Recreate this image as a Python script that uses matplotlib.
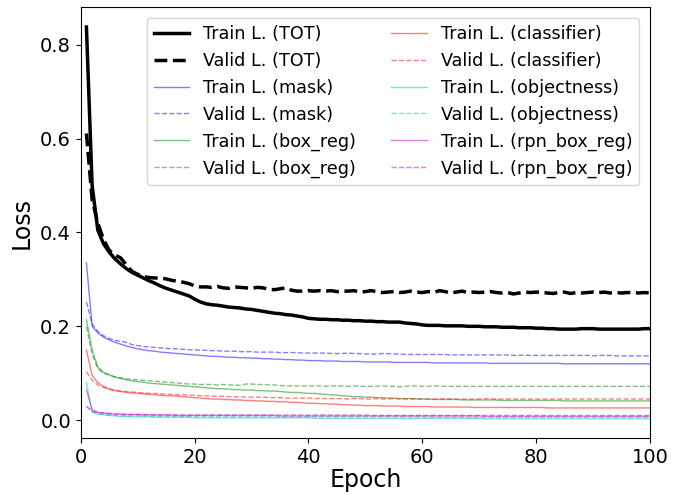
import matplotlib
matplotlib.use("Agg")
import matplotlib.pyplot as plt
import numpy as np

epochs = np.arange(1, 101)

# total loss
train_tot = [0.838, 0.500, 0.405, 0.376, 0.358, 0.344, 0.333, 0.323, 0.315, 0.309,
             0.303, 0.297, 0.292, 0.286, 0.281, 0.277, 0.273, 0.269, 0.265, 0.258,
             0.252, 0.248, 0.246, 0.245, 0.243, 0.241, 0.240, 0.239, 0.237, 0.236,
             0.234, 0.232, 0.230, 0.228, 0.227, 0.225, 0.224, 0.222, 0.220, 0.217,
             0.216, 0.215, 0.215, 0.214, 0.214, 0.213, 0.213, 0.212, 0.212, 0.211,
             0.211, 0.210, 0.210, 0.209, 0.209, 0.209, 0.207, 0.206, 0.205, 0.203,
             0.202, 0.202, 0.202, 0.201, 0.201, 0.201, 0.201, 0.200, 0.200, 0.200,
             0.199, 0.199, 0.199, 0.198, 0.198, 0.198, 0.197, 0.197, 0.197, 0.196,
             0.196, 0.195, 0.195, 0.194, 0.194, 0.194, 0.194, 0.195, 0.195, 0.195,
             0.194, 0.194, 0.194, 0.194, 0.194, 0.194, 0.194, 0.194, 0.195, 0.195]
valid_tot = [0.611, 0.470, 0.420, 0.385, 0.362, 0.352, 0.346, 0.331, 0.317, 0.311,
             0.306, 0.304, 0.303, 0.303, 0.301, 0.298, 0.296, 0.294, 0.291, 0.286,
             0.284, 0.284, 0.283, 0.285, 0.282, 0.281, 0.284, 0.283, 0.282, 0.281,
             0.283, 0.282, 0.279, 0.278, 0.280, 0.282, 0.277, 0.275, 0.275, 0.276,
             0.275, 0.276, 0.275, 0.276, 0.274, 0.275, 0.275, 0.276, 0.273, 0.274,
             0.276, 0.274, 0.272, 0.273, 0.274, 0.272, 0.273, 0.275, 0.273, 0.272,
             0.274, 0.272, 0.276, 0.274, 0.271, 0.273, 0.275, 0.272, 0.273, 0.272,
             0.273, 0.274, 0.272, 0.271, 0.272, 0.269, 0.271, 0.273, 0.272, 0.273,
             0.272, 0.271, 0.270, 0.272, 0.273, 0.270, 0.272, 0.271, 0.272, 0.273,
             0.272, 0.273, 0.271, 0.272, 0.271, 0.272, 0.272, 0.271, 0.272, 0.271]

# mask
train_mask = [0.335, 0.200, 0.186, 0.177, 0.171, 0.166, 0.162, 0.158, 0.155, 0.152,
              0.150, 0.148, 0.147, 0.145, 0.144, 0.143, 0.142, 0.141, 0.140, 0.139,
              0.138, 0.137, 0.136, 0.136, 0.135, 0.134, 0.134, 0.133, 0.133, 0.132,
              0.132, 0.131, 0.131, 0.130, 0.130, 0.129, 0.129, 0.128, 0.128, 0.127,
              0.127, 0.127, 0.126, 0.126, 0.126, 0.125, 0.125, 0.125, 0.125, 0.124,
              0.124, 0.124, 0.124, 0.124, 0.123, 0.123, 0.123, 0.123, 0.123, 0.123,
              0.123, 0.122, 0.122, 0.122, 0.122, 0.122, 0.122, 0.122, 0.122, 0.122,
              0.122, 0.121, 0.121, 0.121, 0.121, 0.121, 0.121, 0.121, 0.121, 0.121,
              0.121, 0.121, 0.121, 0.121, 0.120, 0.120, 0.120, 0.120, 0.120, 0.120,
              0.120, 0.120, 0.120, 0.120, 0.120, 0.120, 0.120, 0.120, 0.120, 0.120]
valid_mask = [0.252, 0.205, 0.189, 0.180, 0.174, 0.170, 0.168, 0.166, 0.161, 0.159,
              0.157, 0.156, 0.155, 0.154, 0.153, 0.152, 0.152, 0.151, 0.150, 0.150,
              0.149, 0.149, 0.148, 0.148, 0.147, 0.147, 0.147, 0.146, 0.146, 0.146,
              0.145, 0.145, 0.145, 0.145, 0.144, 0.144, 0.144, 0.144, 0.143, 0.143,
              0.143, 0.143, 0.143, 0.142, 0.142, 0.142, 0.143, 0.142, 0.142, 0.141,
              0.141, 0.141, 0.142, 0.142, 0.141, 0.141, 0.140, 0.140, 0.140, 0.140,
              0.140, 0.140, 0.140, 0.140, 0.139, 0.139, 0.139, 0.139, 0.139, 0.139,
              0.139, 0.139, 0.139, 0.139, 0.139, 0.138, 0.138, 0.139, 0.138, 0.138,
              0.138, 0.138, 0.138, 0.138, 0.138, 0.138, 0.138, 0.138, 0.138, 0.137,
              0.138, 0.138, 0.138, 0.137, 0.137, 0.137, 0.137, 0.137, 0.137, 0.137]

# box_reg
train_box = [0.214, 0.150, 0.113, 0.102, 0.097, 0.092, 0.089, 0.086, 0.084, 0.082,
             0.081, 0.079, 0.078, 0.077, 0.076, 0.075, 0.074, 0.073, 0.072, 0.071,
             0.070, 0.069, 0.068, 0.067, 0.067, 0.066, 0.065, 0.065, 0.064, 0.064,
             0.063, 0.063, 0.062, 0.062, 0.061, 0.060, 0.059, 0.059, 0.058, 0.057,
             0.057, 0.056, 0.055, 0.054, 0.053, 0.052, 0.051, 0.050, 0.050, 0.049,
             0.049, 0.048, 0.048, 0.047, 0.047, 0.046, 0.046, 0.046, 0.045, 0.045,
             0.045, 0.044, 0.044, 0.044, 0.044, 0.044, 0.043, 0.043, 0.043, 0.043,
             0.043, 0.043, 0.043, 0.042, 0.042, 0.042, 0.042, 0.042, 0.042, 0.042,
             0.042, 0.042, 0.042, 0.042, 0.041, 0.041, 0.041, 0.041, 0.041, 0.041,
             0.041, 0.041, 0.041, 0.041, 0.041, 0.041, 0.041, 0.041, 0.041, 0.041]
valid_box = [0.199, 0.140, 0.110, 0.100, 0.096, 0.092, 0.090, 0.088, 0.087, 0.086,
             0.085, 0.084, 0.083, 0.082, 0.081, 0.080, 0.079, 0.078, 0.077, 0.077,
             0.076, 0.076, 0.076, 0.075, 0.076, 0.075, 0.075, 0.074, 0.077, 0.077,
             0.076, 0.076, 0.075, 0.075, 0.074, 0.073, 0.073, 0.073, 0.073, 0.073,
             0.073, 0.073, 0.072, 0.073, 0.073, 0.073, 0.072, 0.073, 0.072, 0.072,
             0.072, 0.072, 0.073, 0.072, 0.072, 0.071, 0.072, 0.073, 0.073, 0.072,
             0.072, 0.073, 0.073, 0.072, 0.072, 0.072, 0.072, 0.072, 0.072, 0.072,
             0.072, 0.072, 0.072, 0.072, 0.072, 0.072, 0.072, 0.072, 0.072, 0.072,
             0.072, 0.072, 0.072, 0.072, 0.072, 0.072, 0.072, 0.072, 0.072, 0.072,
             0.072, 0.072, 0.072, 0.072, 0.072, 0.072, 0.072, 0.072, 0.072, 0.072]

# classifier
train_cls = [0.149, 0.095, 0.080, 0.072, 0.066, 0.063, 0.061, 0.059, 0.058, 0.057,
             0.056, 0.055, 0.054, 0.053, 0.052, 0.052, 0.051, 0.050, 0.049, 0.048,
             0.047, 0.046, 0.045, 0.045, 0.044, 0.044, 0.043, 0.043, 0.042, 0.042,
             0.041, 0.041, 0.040, 0.040, 0.039, 0.039, 0.038, 0.038, 0.037, 0.036,
             0.036, 0.035, 0.035, 0.034, 0.034, 0.033, 0.033, 0.032, 0.032, 0.031,
             0.031, 0.031, 0.030, 0.030, 0.030, 0.030, 0.029, 0.029, 0.029, 0.029,
             0.029, 0.028, 0.028, 0.028, 0.028, 0.028, 0.028, 0.028, 0.027, 0.027,
             0.027, 0.027, 0.027, 0.027, 0.027, 0.027, 0.027, 0.027, 0.027, 0.027,
             0.027, 0.026, 0.026, 0.026, 0.026, 0.026, 0.026, 0.026, 0.026, 0.026,
             0.026, 0.026, 0.026, 0.026, 0.026, 0.026, 0.026, 0.026, 0.026, 0.026]
valid_cls = [0.103, 0.085, 0.075, 0.070, 0.066, 0.064, 0.062, 0.061, 0.060, 0.059,
             0.058, 0.057, 0.057, 0.056, 0.055, 0.055, 0.054, 0.054, 0.053, 0.053,
             0.052, 0.052, 0.051, 0.051, 0.051, 0.050, 0.050, 0.050, 0.049, 0.049,
             0.049, 0.049, 0.048, 0.048, 0.048, 0.047, 0.047, 0.047, 0.047, 0.047,
             0.046, 0.046, 0.046, 0.046, 0.046, 0.046, 0.045, 0.046, 0.046, 0.045,
             0.045, 0.046, 0.045, 0.045, 0.046, 0.045, 0.045, 0.045, 0.046, 0.045,
             0.045, 0.045, 0.045, 0.046, 0.045, 0.045, 0.045, 0.045, 0.045, 0.045,
             0.046, 0.045, 0.045, 0.045, 0.045, 0.045, 0.045, 0.045, 0.045, 0.045,
             0.045, 0.045, 0.045, 0.045, 0.045, 0.045, 0.045, 0.045, 0.045, 0.045,
             0.045, 0.045, 0.045, 0.045, 0.045, 0.045, 0.045, 0.045, 0.045, 0.045]

# objectness
train_obj = [0.080, 0.018, 0.013, 0.011, 0.010, 0.009, 0.008, 0.008, 0.007, 0.007,
             0.007, 0.007, 0.006, 0.006, 0.006, 0.006, 0.006, 0.006, 0.006, 0.005,
             0.005, 0.005, 0.005, 0.005, 0.005, 0.005, 0.005, 0.005, 0.005, 0.005,
             0.005, 0.005, 0.005, 0.005, 0.005, 0.005, 0.005, 0.005, 0.005, 0.005,
             0.004, 0.004, 0.004, 0.004, 0.004, 0.004, 0.004, 0.004, 0.004, 0.004,
             0.004, 0.004, 0.004, 0.004, 0.004, 0.004, 0.004, 0.004, 0.004, 0.004,
             0.004, 0.004, 0.004, 0.004, 0.004, 0.004, 0.004, 0.004, 0.004, 0.004,
             0.003, 0.003, 0.003, 0.003, 0.003, 0.003, 0.003, 0.003, 0.003, 0.003,
             0.003, 0.003, 0.003, 0.003, 0.003, 0.003, 0.003, 0.003, 0.003, 0.003,
             0.003, 0.003, 0.003, 0.003, 0.003, 0.003, 0.003, 0.003, 0.003, 0.003]
valid_obj = [0.030, 0.017, 0.014, 0.012, 0.011, 0.010, 0.010, 0.009, 0.009, 0.009,
             0.009, 0.008, 0.008, 0.008, 0.008, 0.008, 0.008, 0.008, 0.008, 0.008,
             0.008, 0.008, 0.007, 0.007, 0.007, 0.007, 0.007, 0.007, 0.007, 0.007,
             0.007, 0.007, 0.007, 0.007, 0.007, 0.007, 0.007, 0.007, 0.007, 0.007,
             0.007, 0.007, 0.007, 0.007, 0.007, 0.007, 0.007, 0.007, 0.007, 0.007,
             0.007, 0.007, 0.007, 0.007, 0.007, 0.007, 0.007, 0.007, 0.007, 0.007,
             0.006, 0.006, 0.006, 0.006, 0.006, 0.006, 0.006, 0.006, 0.006, 0.006,
             0.006, 0.006, 0.006, 0.006, 0.006, 0.006, 0.006, 0.006, 0.006, 0.006,
             0.006, 0.006, 0.006, 0.006, 0.006, 0.006, 0.006, 0.006, 0.006, 0.006,
             0.006, 0.006, 0.006, 0.006, 0.006, 0.006, 0.006, 0.006, 0.006, 0.006]

# rpn_box_reg
train_rpn = [0.064, 0.022, 0.017, 0.015, 0.014, 0.013, 0.013, 0.012, 0.012, 0.012,
             0.011, 0.011, 0.011, 0.011, 0.011, 0.011, 0.010, 0.010, 0.010, 0.010,
             0.010, 0.010, 0.010, 0.010, 0.010, 0.010, 0.010, 0.010, 0.010, 0.010,
             0.010, 0.010, 0.010, 0.010, 0.009, 0.009, 0.009, 0.009, 0.009, 0.009,
             0.009, 0.009, 0.009, 0.009, 0.009, 0.009, 0.009, 0.009, 0.009, 0.009,
             0.009, 0.009, 0.009, 0.009, 0.009, 0.009, 0.009, 0.009, 0.009, 0.009,
             0.009, 0.009, 0.009, 0.009, 0.009, 0.009, 0.009, 0.009, 0.009, 0.009,
             0.008, 0.008, 0.008, 0.008, 0.008, 0.008, 0.008, 0.008, 0.008, 0.008,
             0.008, 0.008, 0.008, 0.008, 0.008, 0.008, 0.008, 0.008, 0.008, 0.008,
             0.008, 0.008, 0.008, 0.008, 0.008, 0.008, 0.008, 0.008, 0.008, 0.008]
valid_rpn = [0.029, 0.020, 0.016, 0.015, 0.014, 0.013, 0.013, 0.012, 0.012, 0.012,
             0.012, 0.012, 0.011, 0.011, 0.011, 0.011, 0.011, 0.011, 0.011, 0.011,
             0.011, 0.011, 0.011, 0.011, 0.011, 0.011, 0.011, 0.011, 0.011, 0.011,
             0.011, 0.011, 0.011, 0.011, 0.011, 0.011, 0.011, 0.011, 0.011, 0.011,
             0.011, 0.011, 0.011, 0.011, 0.011, 0.011, 0.011, 0.011, 0.011, 0.011,
             0.010, 0.010, 0.010, 0.010, 0.010, 0.010, 0.010, 0.010, 0.010, 0.010,
             0.010, 0.010, 0.010, 0.010, 0.010, 0.010, 0.010, 0.010, 0.010, 0.010,
             0.010, 0.010, 0.010, 0.010, 0.010, 0.010, 0.010, 0.010, 0.010, 0.010,
             0.010, 0.010, 0.010, 0.010, 0.010, 0.010, 0.010, 0.010, 0.010, 0.010,
             0.010, 0.010, 0.010, 0.010, 0.010, 0.010, 0.010, 0.010, 0.010, 0.010]

parts = ["mask", "box_reg", "classifier", "objectness", "rpn_box_reg"]
part_colors = ["b", "g", "r", "c", "m"]
part_train = [train_mask, train_box, train_cls, train_obj, train_rpn]
part_valid = [valid_mask, valid_box, valid_cls, valid_obj, valid_rpn]

fig = plt.figure(figsize=(6.93, 4.95), dpi=100)
ax = fig.add_axes([0.1165, 0.1145, 0.8215, 0.8705])

ax.plot(epochs, train_tot, color="k", lw=2.5, label="Train L. (TOT)")
ax.plot(epochs, valid_tot, color="k", lw=2.5, ls="--", label="Valid L. (TOT)")
for name, c, tr, va in zip(parts, part_colors, part_train, part_valid):
    ax.plot(epochs, tr, color=c, alpha=0.5, lw=1, label="Train L. (" + name + ")")
    ax.plot(epochs, va, color=c, alpha=0.5, lw=1, ls="--", label="Valid L. (" + name + ")")

ax.set_xlim(0, 100)
ax.set_xlabel("Epoch", fontsize=17, labelpad=0.5)
ax.set_ylabel("Loss", fontsize=17, labelpad=5)
ax.tick_params(labelsize=14)
ax.legend(ncol=2, fontsize=12.7, loc="upper right", borderaxespad=0.6)

fig.savefig("out.png", dpi=100)
